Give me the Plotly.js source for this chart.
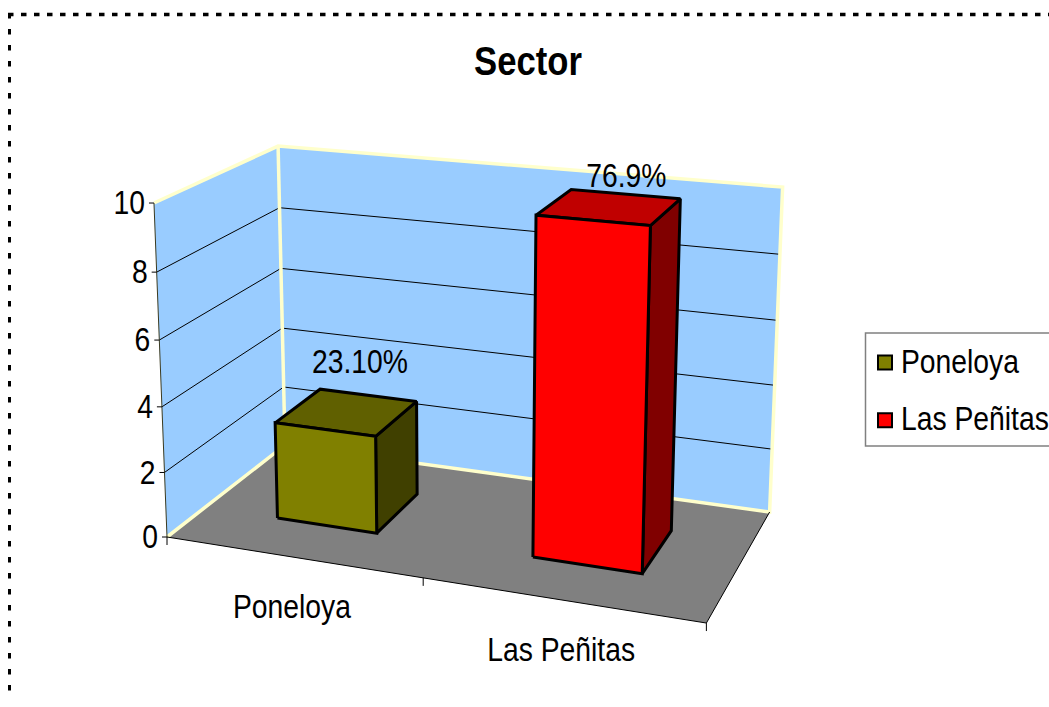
<!DOCTYPE html>
<html>
<head>
<meta charset="utf-8">
<script src="https://cdn.plot.ly/plotly-3.0.1.min.js"></script>
<style>html,body{margin:0;padding:0;background:#fff;overflow:hidden}</style>
</head>
<body>
<div id="chart" style="width:1049px;height:707px"></div>
<script>
// ---- chart data ----
const categories = ['Poneloya', 'Las Peñitas'];
const values = [3, 10];
const valueLabels = ['23.10%', '76.9%'];
const valueTicks = [0, 2, 4, 6, 8, 10];
const chartTitle = 'Sector';
const seriesFront = ['#808000', '#FF0000'];
const seriesTop = ['#606000', '#C00000'];
const seriesSide = ['#404000', '#800000'];

// ---- 3D scale: category axis, depth, value axis -> page position ----
const W = 1049, H = 707, FONT = '"Liberation Sans", Arial, sans-serif';
const TEXT_SIZE = 28.3, TEXT_STRETCH = 1.18, LEGEND_SIZE = 26;
const valueMax = 10, barWidth = 0.2, depthFrom = 0.3, depthTo = 0.7;
function project(u, v, val) {
  const w = val / valueMax;
  const d = -0.0954 * u + 0.1255 * v - 0.042 * w + 1;
  return [(472 * u + 153.8 * v - 19.5 * w + 167) / d,
          (26.6 * u - 36.2 * v - 342.5 * w + 537) / d];
}
const traces = [];
function path(points, opts) {
  const t = {
    x: points.map(p => p[0]), y: points.map(p => p[1]),
    type: 'scatter', mode: 'lines', hoverinfo: 'skip', showlegend: false,
    line: {color: opts.line || 'rgba(0,0,0,0)', width: opts.width || 1, simplify: false}
  };
  if (opts.fill) { t.fill = 'toself'; t.fillcolor = opts.fill; }
  traces.push(t);
}
function poly(corners, fill, line, width) {
  const pts = corners.map(c => project(c[0], c[1], c[2]));
  pts.push(pts[0]);
  path(pts, {fill, line, width});
}
function seg(corners, line, width) {
  path(corners.map(c => project(c[0], c[1], c[2])), {line, width});
}

// walls and floor
const WALL = '#99CCFF', EDGE = '#FFFFCC';
poly([[0,0,0],[0,1,0],[0,1,valueMax],[0,0,valueMax]], WALL);
poly([[0,1,0],[1,1,0],[1,1,valueMax],[0,1,valueMax]], WALL);
poly([[0,0,0],[1,0,0],[1,1,0],[0,1,0]], '#808080');
// gridlines
valueTicks.filter(t => t > 0 && t < valueMax).forEach(t =>
  seg([[0,0,t],[0,1,t],[1,1,t]], '#000000', 1));
// wall edges
seg([[0,0,valueMax],[0,1,valueMax],[1,1,valueMax],[1,1,0],[0,1,0],[0,0,0]], EDGE, 3.5);
seg([[0,1,0],[0,1,valueMax]], EDGE, 3.5);
// axis lines
seg([[0,0,0],[0,0,valueMax]], '#3a3a20', 1);
seg([[0,0,0],[1,0,0],[1,1,0]], '#000000', 1);

// value ticks and labels
valueTicks.forEach(t => {
  const p = project(0, 0, t);
  path([[p[0] - 5, p[1]], p], {line: '#000000', width: 1});
});
traces.push({
  x: valueTicks.map(t => project(0, 0, t)[0] - 9),
  y: valueTicks.map(t => project(0, 0, t)[1] + 4),
  text: valueTicks.map(String), type: 'scatter', mode: 'text',
  textposition: 'middle left', cliponaxis: false, hoverinfo: 'skip', showlegend: false,
  textfont: {family: FONT, size: TEXT_SIZE, color: '#000000'}
});
// category ticks
[0, 0.5, 1].forEach(u => {
  const p = project(u, 0, 0);
  path([p, [p[0], p[1] + 8]], {line: '#000000', width: 1});
});
traces.push({
  x: categories.map((c, i) => project((i + 0.5) / categories.length, 0, 0)[0]),
  y: categories.map((c, i) => project((i + 0.5) / categories.length, 0, 0)[1] + 54),
  text: categories, type: 'scatter', mode: 'text',
  textposition: 'middle center', cliponaxis: false, hoverinfo: 'skip', showlegend: false,
  textfont: {family: FONT, size: TEXT_SIZE, color: '#000000'}
});

// bars
categories.forEach((c, i) => {
  const mid = (i + 0.5) / categories.length;
  const a = mid - barWidth / 2, b = mid + barWidth / 2;
  const v0 = depthFrom, v1 = depthTo, h = values[i];
  poly([[b,v0,0],[b,v1,0],[b,v1,h],[b,v0,h]], seriesSide[i], '#000000', 3);
  poly([[a,v0,h],[b,v0,h],[b,v1,h],[a,v1,h]], seriesTop[i], '#000000', 3);
  poly([[a,v0,0],[b,v0,0],[b,v0,h],[a,v0,h]], seriesFront[i], '#000000', 3);
});
// value labels
const labelDx = [13, 17], labelDy = [-46, -27];
traces.push({
  x: categories.map((c, i) => project((i + 0.5) / categories.length, 0.5, values[i])[0] + labelDx[i]),
  y: categories.map((c, i) => project((i + 0.5) / categories.length, 0.5, values[i])[1] + labelDy[i]),
  text: valueLabels, type: 'scatter', mode: 'text',
  textposition: 'middle center', cliponaxis: false, hoverinfo: 'skip', showlegend: false,
  textfont: {family: FONT, size: TEXT_SIZE, color: '#000000'}
});
// legend entries
categories.forEach((c, i) => traces.push({
  x: [null], y: [null], type: 'scatter', mode: 'markers', name: c, legendgroup: c,
  marker: {symbol: 'square', size: 14, color: seriesFront[i], line: {color: '#000000', width: 2}}
}));

const layout = {
  width: W, height: H,
  margin: {l: 0, r: 0, t: 0, b: 0},
  paper_bgcolor: '#ffffff', plot_bgcolor: '#ffffff',
  xaxis: {visible: false, range: [0, W], fixedrange: true},
  yaxis: {visible: false, range: [H, 0], fixedrange: true},
  title: {text: chartTitle, x: 528 / W, xanchor: 'center', y: 1 - 61 / H, yanchor: 'middle',
          font: {family: FONT, size: 34.7, weight: 700, color: '#000000'}},
  legend: {x: 861 / W, xanchor: 'left', y: 1 - 339 / H, yanchor: 'top',
           bgcolor: 'rgba(0,0,0,0)', borderwidth: 0, traceorder: 'grouped', tracegroupgap: 21,
           font: {family: FONT, size: LEGEND_SIZE, color: '#000000'}, itemclick: false, itemdoubleclick: false},
  shapes: [
    {type: 'rect', xref: 'x', yref: 'y', x0: 865.5, x1: 1060, y0: 333, y1: 446,
     line: {color: '#808080', width: 1.5}},
    {type: 'line', xref: 'x', yref: 'y', x0: 8, x1: 1049, y0: 14.5, y1: 14.5,
     line: {color: '#000000', width: 3.5, dash: '5.5px,7.5px'}},
    {type: 'line', xref: 'x', yref: 'y', x0: 9.5, x1: 9.5, y0: 13, y1: 697,
     line: {color: '#000000', width: 3, dash: '5.5px,10.5px'}}
  ]
};
function stretch(el, sx, sy) {
  const x = parseFloat(el.getAttribute('x')) || 0, y = parseFloat(el.getAttribute('y')) || 0;
  const prior = el.getAttribute('transform') || '';
  el.setAttribute('transform', prior + ' translate(' + x + ',' + y + ') scale(' + sx + ',' + sy + ') translate(' + (-x) + ',' + (-y) + ')');
}
Plotly.newPlot('chart', traces, layout, {displayModeBar: false, staticPlot: true}).then(() => {
  document.querySelectorAll('.legend .legendpoints').forEach(el => el.setAttribute('transform', 'translate(4,0)'));
  // the reference text is taller than it is wide: stretch each label about its baseline
  document.querySelectorAll('.textpoint text, .gtitle').forEach(el => stretch(el, 1, TEXT_STRETCH));
  const k = TEXT_SIZE / LEGEND_SIZE;
  document.querySelectorAll('.legendtext').forEach(el => stretch(el, k, k * TEXT_STRETCH));
  document.querySelectorAll('.legend, .legend .scrollbox').forEach(el => {
    el.removeAttribute('clip-path');
    el.style.clipPath = 'none';
  });
});
</script>
</body>
</html>
